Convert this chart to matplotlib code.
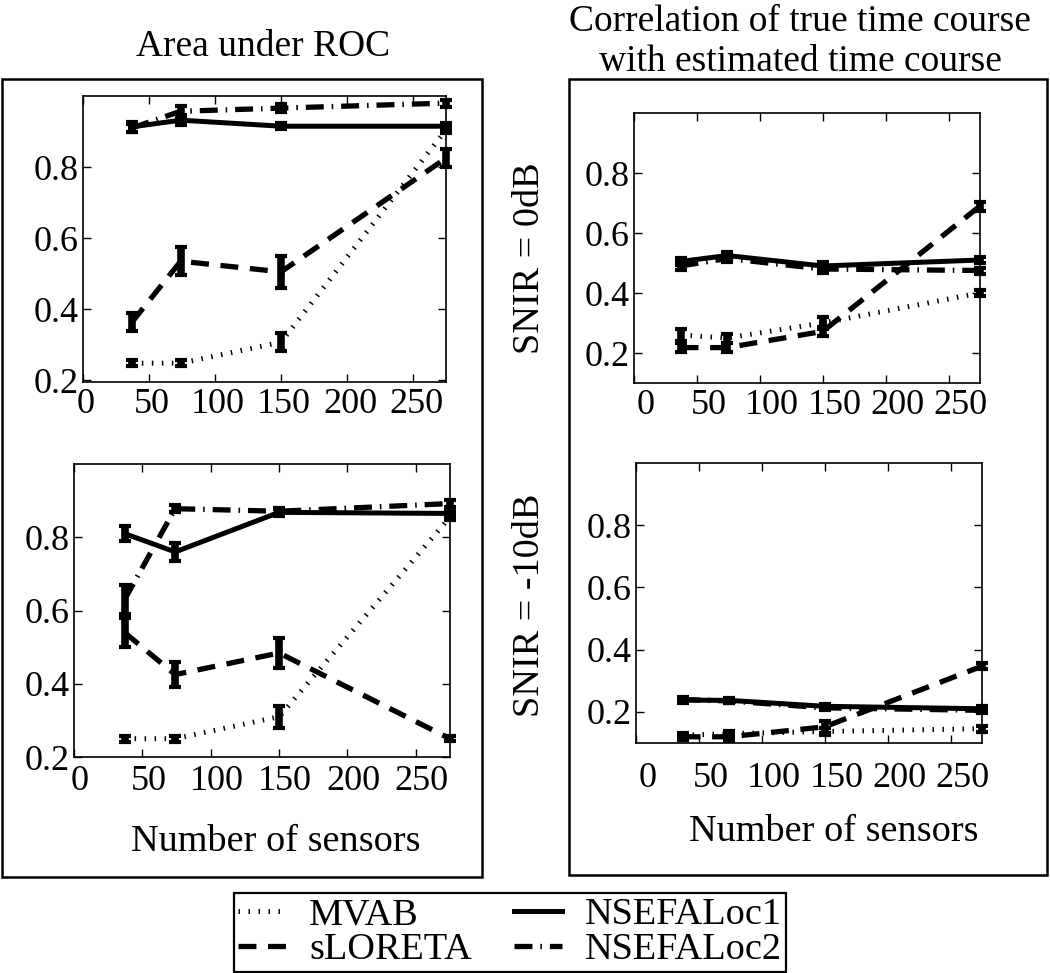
import matplotlib
matplotlib.use('Agg')
import matplotlib.pyplot as plt
from matplotlib.lines import Line2D
from matplotlib.patches import Rectangle
from matplotlib.transforms import ScaledTranslation

plt.rcParams['font.family'] = ['Liberation Serif', 'DejaVu Serif']

# ==========================================
# Data
# ==========================================
sensors = [37, 74, 150, 275]
methods = ['MVAB', 'sLORETA', 'NSEFALoc1', 'NSEFALoc2']
x_ticks = [0, 50, 100, 150, 200, 250]
y_ticks = [0.2, 0.4, 0.6, 0.8]

# Area under ROC, SNIR = 0dB
auc_0db_mvab = [0.248, 0.248, 0.307, 0.905]
auc_0db_slor = [0.363, 0.535, 0.505, 0.825]
auc_0db_nse1 = [0.913, 0.932, 0.915, 0.915]
auc_0db_nse2 = [0.910, 0.957, 0.966, 0.980]
auc_0db_err_mvab = [0.008, 0.008, 0.025, 0.010]
auc_0db_err_slor = [0.025, 0.040, 0.045, 0.025]
auc_0db_err_nse1 = [0.015, 0.015, 0.008, 0.008]
auc_0db_err_nse2 = [0.010, 0.015, 0.012, 0.010]

# Area under ROC, SNIR = -10dB
auc_10db_mvab = [0.250, 0.250, 0.310, 0.855]
auc_10db_slor = [0.540, 0.425, 0.484, 0.250]
auc_10db_nse1 = [0.810, 0.760, 0.868, 0.865]
auc_10db_nse2 = [0.630, 0.878, 0.871, 0.892]
auc_10db_err_mvab = [0.008, 0.008, 0.030, 0.008]
auc_10db_err_slor = [0.040, 0.035, 0.040, 0.006]
auc_10db_err_nse1 = [0.020, 0.025, 0.010, 0.008]
auc_10db_err_nse2 = [0.040, 0.010, 0.010, 0.010]

# Correlation of time courses, SNIR = 0dB
corr_0db_mvab = [0.260, 0.250, 0.300, 0.400]
corr_0db_slor = [0.218, 0.218, 0.272, 0.690]
corr_0db_nse1 = [0.505, 0.525, 0.490, 0.510]
corr_0db_nse2 = [0.490, 0.515, 0.480, 0.475]
corr_0db_err_mvab = [0.020, 0.015, 0.020, 0.010]
corr_0db_err_slor = [0.015, 0.015, 0.015, 0.015]
corr_0db_err_nse1 = [0.012, 0.012, 0.012, 0.010]
corr_0db_err_nse2 = [0.012, 0.012, 0.012, 0.010]

# Correlation of time courses, SNIR = -10dB
corr_10db_mvab = [0.125, 0.130, 0.137, 0.146]
corr_10db_slor = [0.120, 0.120, 0.152, 0.347]
corr_10db_nse1 = [0.238, 0.237, 0.218, 0.210]
corr_10db_nse2 = [0.240, 0.235, 0.213, 0.205]
corr_10db_err_mvab = [0.008, 0.010, 0.012, 0.010]
corr_10db_err_slor = [0.010, 0.012, 0.020, 0.010]
corr_10db_err_nse1 = [0.008, 0.008, 0.008, 0.008]
corr_10db_err_nse2 = [0.008, 0.008, 0.008, 0.008]

# ==========================================
# Styles and layout (pixels of the 1050x973 image)
# ==========================================
W, H = 1050, 973
styles = {
    'MVAB':      dict(ls=(0, (0.3, 1.7)), lw=3.6),
    'sLORETA':   dict(ls=(0, (3.4, 2.2)), lw=3.8),
    'NSEFALoc1': dict(ls='-', lw=3.6),
    'NSEFALoc2': dict(ls=(0, (3.4, 1.5, 0.3, 1.5)), lw=3.8),
}


def fig_rect(x0, y0, x1, y1):
    return [x0 / W, 1 - y1 / H, (x1 - x0) / W, (y1 - y0) / H]


def fx(x):
    return x / W


def fy(y):
    return 1 - y / H


fig = plt.figure(figsize=(W / 100, H / 100), dpi=100)

# big boxes around each column
for (x0, y0, x1, y1) in [(2, 79, 482, 877), (569, 79, 1047, 875)]:
    fig.add_artist(Rectangle((fx(x0), fy(y1)), (x1 - x0) / W, (y1 - y0) / H,
                             transform=fig.transFigure, fill=False,
                             lw=1.8, ec='black'))

# rect, ylim, series, errors, x tick pad, x tick label shift (px)
panels = [
    (fig_rect(83, 96, 446, 382), (0.195, 1.0),
     [auc_0db_mvab, auc_0db_slor, auc_0db_nse1, auc_0db_nse2],
     [auc_0db_err_mvab, auc_0db_err_slor, auc_0db_err_nse1, auc_0db_err_nse2], 4, 3),
    (fig_rect(74, 464, 450, 757), (0.2, 1.0),
     [auc_10db_mvab, auc_10db_slor, auc_10db_nse1, auc_10db_nse2],
     [auc_10db_err_mvab, auc_10db_err_slor, auc_10db_err_nse1, auc_10db_err_nse2], 5.5, 6),
    (fig_rect(634, 113, 980, 383), (0.1, 1.0),
     [corr_0db_mvab, corr_0db_slor, corr_0db_nse1, corr_0db_nse2],
     [corr_0db_err_mvab, corr_0db_err_slor, corr_0db_err_nse1, corr_0db_err_nse2], 4, 12),
    (fig_rect(636, 463, 982, 743), (0.1, 1.0),
     [corr_10db_mvab, corr_10db_slor, corr_10db_nse1, corr_10db_nse2],
     [corr_10db_err_mvab, corr_10db_err_slor, corr_10db_err_nse1, corr_10db_err_nse2], 14, 12),
]

for rect, ylim, series, errs, xpad, dx in panels:
    ax = fig.add_axes(rect)
    for name, y, e in zip(methods, series, errs):
        st = styles[name]
        ax.errorbar(sensors, y, yerr=e, color='black', ls=st['ls'], lw=st['lw'],
                    elinewidth=5.5, capsize=4, capthick=3.0,
                    dash_capstyle='butt', clip_on=False)
    ax.set_xlim(0, 275)
    ax.set_ylim(*ylim)
    ax.set_xticks(x_ticks)
    ax.set_yticks(y_ticks)
    ax.tick_params(direction='in', top=True, right=True, length=6, width=1,
                   labelsize=26)
    ax.tick_params(axis='y', pad=3)
    ax.tick_params(axis='x', pad=xpad)
    shift = ScaledTranslation(dx / 100, 0, fig.dpi_scale_trans)
    for lab in ax.get_xticklabels():
        lab.set_transform(lab.get_transform() + shift)
    for sp in ax.spines.values():
        sp.set_linewidth(1.2)

# titles and labels
fig.text(fx(263), fy(47), 'Area under ROC', ha='center', va='center', fontsize=27)
fig.text(fx(800), fy(22), 'Correlation of true time course', ha='center', va='center', fontsize=27)
fig.text(fx(800), fy(62), 'with estimated time course', ha='center', va='center', fontsize=27)
fig.text(fx(276), fy(842), 'Number of sensors', ha='center', va='center', fontsize=27.5)
fig.text(fx(834), fy(832), 'Number of sensors', ha='center', va='center', fontsize=27.5)
fig.text(fx(530), fy(258), 'SNIR = 0dB', rotation=90, ha='center', va='center', fontsize=27.5)
fig.text(fx(530), fy(605), 'SNIR = -10dB', rotation=90, ha='center', va='center', fontsize=27.5)

# legend
handles = [Line2D([], [], color='black', ls=styles[m]['ls'], lw=styles[m]['lw'],
                  dash_capstyle='butt') for m in methods]
leg = fig.legend(handles, methods, loc='center', bbox_to_anchor=(fx(510), fy(932.5)),
                 ncol=2, fontsize=27.5, frameon=True, fancybox=False, edgecolor='black',
                 framealpha=1, borderpad=0.12, labelspacing=0.0, handlelength=1.25,
                 handletextpad=0.6, columnspacing=1.1, borderaxespad=0)
leg.get_frame().set_linewidth(1.6)

fig.savefig('out.png', dpi=100)
